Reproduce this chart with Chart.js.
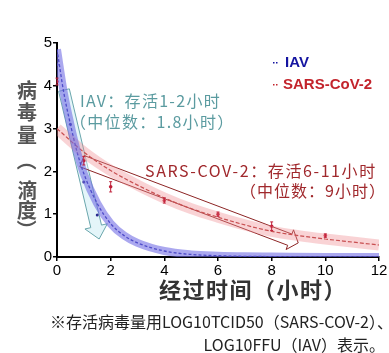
<!DOCTYPE html>
<html><head><meta charset="utf-8">
<script src="https://cdn.jsdelivr.net/npm/chart.js@4/dist/chart.umd.min.js"></script>
<style>
html,body{margin:0;padding:0;background:#fff;width:389px;height:353px;overflow:hidden;}
#wrap{position:relative;width:389px;height:353px;}
canvas{position:absolute;left:0;top:0;}
.note{position:absolute;font-family:"Noto Sans CJK SC";font-size:16px;color:#222;white-space:nowrap;line-height:1;}
</style></head><body>
<div id="wrap"><canvas id="c" width="389" height="353"></canvas>
<div class="note" id="n1" style="left:50px;top:313px">※存活病毒量用LOG10TCID50（SARS-COV-2）、</div>
<div class="note" id="n2" style="right:4px;top:336px">LOG10FFU（IAV）表示。</div>
</div>
<script>
// ---- data ----
const xTicks = [0, 2, 4, 6, 8, 10, 12];
const yTicks = [0, 1, 2, 3, 4, 5];
const seriesNames = ['IAV', 'SARS-CoV-2'];

// IAV fitted decay curve (hours, log10 titer)
const iavFitX = [0, 0.25, 0.5, 0.75, 1, 1.5, 2, 2.5, 3, 4, 5, 6, 7, 8, 10, 12];
const iavFitY = [4.85, 3.85, 3.1, 2.45, 1.95, 1.25, 0.78, 0.5, 0.33, 0.14, 0.06, 0.03, 0.015, 0.01, 0.0, 0.0];
// IAV measured points
const iavPtX = [0, 0.5, 1, 1.5];
const iavPtY = [4.5, 3.1, 1.75, 0.98];

// SARS-CoV-2 fitted decay curve
const sarsFitX = [0, 1, 2, 3, 4, 5, 6, 7, 8, 9, 10, 11, 12];
const sarsFitY = [3.0, 2.45, 2.02, 1.68, 1.38, 1.13, 0.93, 0.75, 0.6, 0.5, 0.42, 0.35, 0.28];
// SARS-CoV-2 measured points with error
const sarsPtX = [0, 1, 2, 4, 6, 8, 10];
const sarsPtY = [4.1, 2.25, 1.64, 1.32, 1.0, 0.72, 0.5];
const sarsPtErr = [0.08, 0.1, 0.12, 0.06, 0.05, 0.1, 0.04];

// annotation arrows: [tailX, tailY, tipX, tipY] in data units
const iavArrow = [0.26, 3.9, 1.57, 0.42];
const sarsArrow = [0.93, 2.24, 8.99, 0.33];

const iavLabel1 = 'IAV：存活1-2小时';
const iavLabel2 = '（中位数：1.8小时）';
const sarsLabel1 = 'SARS-COV-2：存活6-11小时';
const sarsLabel2 = '（中位数：9小时）';
const xTitle = '经过时间（小时）';
const yTitle = ['病','毒','量','（','滴','度','）'];

const pts = (xs, ys) => xs.map((x, i) => ({x, y: ys[i]}));
const CJK = '"Noto Sans CJK SC", "Noto Sans", sans-serif';

function drawArrow(ctx, xs, ys, a, shaftHW, headHW, headLen, fill, stroke) {
  const x0 = xs.getPixelForValue(a[0]), y0 = ys.getPixelForValue(a[1]);
  const x1 = xs.getPixelForValue(a[2]), y1 = ys.getPixelForValue(a[3]);
  const L = Math.hypot(x1 - x0, y1 - y0);
  const dx = (x1 - x0) / L, dy = (y1 - y0) / L;
  const px = -dy, py = dx;
  const bx = x1 - dx * headLen, by = y1 - dy * headLen;
  const P = [
    [x0 + px * shaftHW, y0 + py * shaftHW],
    [bx + px * shaftHW, by + py * shaftHW],
    [bx + px * headHW, by + py * headHW],
    [x1, y1],
    [bx - px * headHW, by - py * headHW],
    [bx - px * shaftHW, by - py * shaftHW],
    [x0 - px * shaftHW, y0 - py * shaftHW]
  ];
  ctx.save();
  ctx.beginPath();
  ctx.moveTo(P[0][0], P[0][1]);
  for (let i = 1; i < P.length; i++) ctx.lineTo(P[i][0], P[i][1]);
  ctx.closePath();
  ctx.fillStyle = fill; ctx.fill();
  ctx.strokeStyle = stroke; ctx.lineWidth = 1; ctx.stroke();
  ctx.restore();
}

function spaced(ctx, px) { try { ctx.letterSpacing = px + 'px'; } catch (e) {} }

const decor = {
  id: 'decor',
  beforeDatasetsDraw(chart) {
    const {ctx, scales: {x, y}} = chart;
    drawArrow(ctx, x, y, iavArrow, 5.5, 11.5, 13, 'rgba(205,236,244,0.55)', '#6aa6ac');
    drawArrow(ctx, x, y, sarsArrow, 6, 10.5, 9, 'rgba(255,255,255,0.35)', '#8c2424');
  },
  afterDatasetsDraw(chart) {
    const {ctx, scales: {x, y}} = chart;
    ctx.save();
    ctx.strokeStyle = '#c0203a'; ctx.lineWidth = 1;
    sarsPtX.forEach((v, i) => {
      const px = x.getPixelForValue(v);
      const t = y.getPixelForValue(sarsPtY[i] + sarsPtErr[i]);
      const b = y.getPixelForValue(sarsPtY[i] - sarsPtErr[i]);
      ctx.beginPath();
      ctx.moveTo(px, t); ctx.lineTo(px, b);
      ctx.moveTo(px - 1.5, t); ctx.lineTo(px + 1.5, t);
      ctx.moveTo(px - 1.5, b); ctx.lineTo(px + 1.5, b);
      ctx.stroke();
    });
    ctx.restore();
  },
  afterDraw(chart) {
    const ctx = chart.ctx;
    ctx.save();
    ctx.textBaseline = 'middle';
    ctx.textAlign = 'left';
    ctx.font = '16px ' + CJK;
    ctx.fillStyle = '#5b9ba0';
    spaced(ctx, 1.3);
    ctx.fillText(iavLabel1, 80, 101);
    ctx.fillText(iavLabel2, 70, 122);
    ctx.fillStyle = '#a0282c';
    spaced(ctx, 1.6);
    ctx.fillText(sarsLabel1, 145, 171);
    spaced(ctx, 1);
    ctx.fillText(sarsLabel2, 240, 191);
    spaced(ctx, 0);

    // legend
    ctx.font = 'bold 15px "Liberation Sans", Arial, sans-serif';
    ctx.fillStyle = '#1414a0';
    ctx.fillText(seriesNames[0], 285, 63);
    ctx.fillStyle = '#c3242c';
    ctx.fillText(seriesNames[1], 283, 85);
    ctx.fillStyle = '#1414a0';
    ctx.fillRect(273, 62, 1.5, 1.5); ctx.fillRect(276, 62, 1.5, 1.5);
    ctx.fillStyle = '#c3242c';
    ctx.fillRect(273, 84, 1.5, 1.5); ctx.fillRect(276, 84, 1.5, 1.5);

    // x title
    ctx.font = 'bold 22px ' + CJK;
    ctx.fillStyle = '#333';
    spaced(ctx, 1.5);
    ctx.fillText(xTitle, 159, 290);
    spaced(ctx, 0);

    // y title (vertical, brackets rotated as in vertical writing)
    ctx.font = 'bold 20px ' + CJK;
    ctx.fillStyle = '#555';
    ctx.textAlign = 'left';
    ctx.textBaseline = 'alphabetic';
    const yc = [90, 112, 134, 167, 190, 210, 223];
    yTitle.forEach((ch, i) => {
      const m = ctx.measureText(ch);
      const cx = (m.actualBoundingBoxRight - m.actualBoundingBoxLeft) / 2;
      const cy = (m.actualBoundingBoxDescent - m.actualBoundingBoxAscent) / 2;
      ctx.save();
      ctx.translate(27, yc[i]);
      if (ch === '（' || ch === '）') ctx.rotate(Math.PI / 2);
      ctx.fillText(ch, -cx, -cy);
      ctx.restore();
    });
    ctx.restore();
  }
};

const lineBase = {pointRadius: 0, fill: false, tension: 0.4, cubicInterpolationMode: 'monotone'};

new Chart(document.getElementById('c'), {
  type: 'line',
  data: {
    datasets: [
      Object.assign({label: 'IAV band', data: pts(iavFitX, iavFitY), borderColor: 'rgba(115,110,228,0.6)', borderWidth: 8}, lineBase),
      Object.assign({label: 'SARS band', data: pts(sarsFitX, sarsFitY), borderColor: 'rgba(240,140,145,0.38)', borderWidth: 11}, lineBase),
      Object.assign({label: 'IAV fit', data: pts(iavFitX, iavFitY), borderColor: '#1a1aa0', borderWidth: 1.3, borderDash: [3, 2]}, lineBase),
      Object.assign({label: 'SARS fit', data: pts(sarsFitX, sarsFitY), borderColor: '#b02a2a', borderWidth: 1.2, borderDash: [4, 2]}, lineBase),
      {label: seriesNames[0], data: pts(iavPtX, iavPtY), showLine: false, pointRadius: 1.5, pointBackgroundColor: '#2a2a90', pointBorderWidth: 0},
      {label: seriesNames[1], data: pts(sarsPtX, sarsPtY), showLine: false, pointRadius: 1.8, pointBackgroundColor: '#c0203a', pointBorderWidth: 0}
    ]
  },
  options: {
    responsive: false,
    animation: false,
    devicePixelRatio: 1,
    layout: {padding: {top: 43, right: 10, left: 0, bottom: 0}},
    plugins: {legend: {display: false}, tooltip: {enabled: false}},
    scales: {
      x: {
        type: 'linear', min: 0, max: 12,
        afterBuildTicks: s => { s.ticks = xTicks.map(v => ({value: v})); },
        ticks: {font: {size: 15, family: '"Liberation Sans", Arial'}, color: '#000', padding: 1, maxRotation: 0},
        grid: {display: true, drawOnChartArea: false, drawTicks: true, tickLength: 4, color: '#000', lineWidth: 1.5},
        border: {display: true, color: '#000', width: 2},
        afterFit: s => { s.height = 96; }
      },
      y: {
        type: 'linear', min: 0, max: 5,
        afterBuildTicks: s => { s.ticks = yTicks.map(v => ({value: v})); },
        ticks: {font: {size: 15, family: '"Liberation Sans", Arial'}, color: '#000', padding: 1},
        grid: {display: true, drawOnChartArea: false, drawTicks: true, tickLength: 4, color: '#000', lineWidth: 1.5},
        border: {display: true, color: '#000', width: 2},
        afterFit: s => { s.width = 57; }
      }
    }
  },
  plugins: [decor]
});
</script>
</body></html>
